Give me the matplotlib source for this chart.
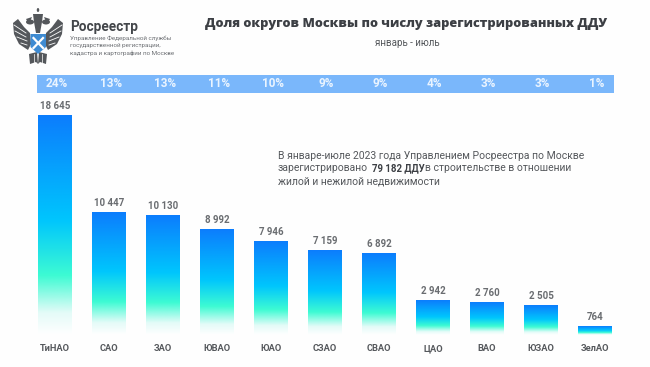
import numpy as np
import matplotlib
matplotlib.use("Agg")
import matplotlib.pyplot as plt
from matplotlib.colors import LinearSegmentedColormap
from matplotlib.patches import Rectangle, Polygon, Ellipse

districts = ["ТиНАО", "САО", "ЗАО", "ЮВАО", "ЮАО", "СЗАО", "СВАО", "ЦАО", "ВАО", "ЮЗАО", "ЗелАО"]
counts = [18645, 10447, 10130, 8992, 7946, 7159, 6892, 2942, 2760, 2505, 764]
count_labels = ["18 645", "10 447", "10 130", "8 992", "7 946", "7 159", "6 892", "2 942", "2 760", "2 505", "764"]
shares = ["24%", "13%", "13%", "11%", "10%", "9%", "9%", "4%", "3%", "3%", "1%"]

W, H = 650, 367
TEXT = "#55585c"
DARK = "#3c3f44"
plt.rcParams["font.family"] = ["Roboto", "DejaVu Sans"]
fig = plt.figure(figsize=(W / 100, H / 100), dpi=100, facecolor="#fefefe")

# Chart axes: 54 px per category, baseline at y=335
ax = fig.add_axes([28 / W, 1 - 335 / H, 594 / W, 235 / H])
ax.patch.set_alpha(0)
for s in ax.spines.values():
    s.set_visible(False)
ax.tick_params(axis="both", length=0)
ax.set_yticks([])
ax.set_xticks(range(len(districts)), districts, fontsize=6.7, fontweight="bold", color=TEXT, va="baseline")
ax.tick_params(axis="x", pad=11.5)

cmap = LinearSegmentedColormap.from_list(
    "ddu", [(0, "#ffffff"), (0.10, "#e4fbf8"), (0.27, "#3dfbd3"), (0.52, "#00c6fd"), (1, "#0c7dfd")]
)
grad = np.linspace(1, 0, 256).reshape(-1, 1)
bars = ax.bar(range(len(counts)), counts, width=0.62, color="none", linewidth=0)
for b in bars:
    ax.imshow(grad, cmap=cmap, vmin=0, vmax=1, aspect="auto", interpolation="bilinear",
              extent=[b.get_x(), b.get_x() + b.get_width(), 0, b.get_height()], zorder=2)
ax.set_xlim(-0.5, 10.5)
ax.set_ylim(0, 19960)
for i, (c, lab) in enumerate(zip(counts, count_labels)):
    ax.annotate(lab, (i, c), xytext=(0, 6.8), textcoords="offset points", ha="center", va="center",
                fontsize=7, fontweight="bold", color="#6a6d71")

# Overlay in pixel coordinates
ov = fig.add_axes([0, 0, 1, 1], zorder=-1)
ov.set_xlim(0, W)
ov.set_ylim(H, 0)
ov.axis("off")
ov.add_patch(Rectangle((37, 75), 577, 18, color="#7ab7fb", lw=0))

trans = ax.get_xaxis_transform()
for i, s in enumerate(shares):
    ax.text(i + 0.03, 1 + 16 / 235, s, transform=trans, ha="center", va="center", fontsize=8.5,
            fontweight="bold", color="#eaf4ff", clip_on=False)

# Titles
fig.text(406 / W, 1 - 24 / H, "Доля округов Москвы по числу зарегистрированных ДДУ", ha="center", va="center",
         fontsize=9.2, fontweight=800, family="Open Sans", color=DARK)
fig.text(407 / W, 1 - 43 / H, "январь - июль", ha="center", va="center", fontsize=7, color=TEXT)

# Brand block
fig.text(70 / W, 1 - 27 / H, "Росреестр", ha="left", va="center", fontsize=9.8, fontweight="bold", color="#43464a")
for y, t in zip((38.5, 46, 53.5), ("Управление Федеральной службы", "государственной регистрации,",
                                   "кадастра и картографии по Москве")):
    fig.text(70.5 / W, 1 - y / H, t, ha="left", va="center", fontsize=4.5, color="#6d7074")

# Stylised emblem
g = "#54575b"
cx = 38
for side in (-1, 1):
    X = lambda d: cx + side * d
    ov.add_patch(Polygon([(X(8), 33), (X(14), 27), (X(20), 19), (X(25), 23), (X(24), 34),
                          (X(19), 44), (X(10), 50), (X(7), 44)], color=g, lw=0))
    for a, b, c, d in ((12, 33, 24, 25), (12, 37, 23, 31), (11, 41, 21, 37), (11, 45, 17, 43)):
        ov.plot([X(a), X(c)], [b, d], color="#fefefe", lw=0.6)
    ov.add_patch(Ellipse((X(8), 22), 8, 5, color=g, lw=0))
    ov.add_patch(Polygon([(X(6), 17), (X(12), 19), (X(9), 24)], color=g, lw=0))
    ov.add_patch(Polygon([(X(1), 52), (X(9), 54), (X(8), 64), (X(2), 62), (X(0), 64)], color=g, lw=0))
    ov.plot([X(4), X(4)], [54, 63], color="#fefefe", lw=0.5)
ov.add_patch(Polygon([(33, 14), (43, 14), (42, 22), (40, 33), (36, 33), (34, 22)], color=g, lw=0))
ov.add_patch(Ellipse((38, 10), 2.5, 4, color=g, lw=0))
ov.add_patch(Polygon([(30.5, 34), (46, 34), (46, 47), (38, 54), (30.5, 47)], color="#3e8bd2", lw=0))
ov.plot([33.5, 43], [38, 48], color="#fefefe", lw=1.6)
ov.plot([43, 33.5], [38, 48], color="#fefefe", lw=1.6)

# Note with bold figure
fs = 7.5
ty = [156, 168.5, 181]
fig.text(278 / W, 1 - ty[0] / H, "В январе-июле 2023 года Управлением Росреестра по Москве", ha="left", va="center",
         fontsize=fs, color=TEXT)
fig.text(278 / W, 1 - ty[1] / H, "зарегистрировано", ha="left", va="center", fontsize=fs, color=TEXT)
fig.text(372 / W, 1 - ty[1] / H, "79 182 ДДУ", ha="left", va="center", fontsize=6.9, fontweight="bold", color=DARK)
fig.text(425 / W, 1 - ty[1] / H, "в строительстве в отношении", ha="left", va="center", fontsize=fs, color=TEXT)
fig.text(278 / W, 1 - ty[2] / H, "жилой и нежилой недвижимости", ha="left", va="center", fontsize=fs, color=TEXT)

fig.savefig("out.png", dpi=100, facecolor=fig.get_facecolor())
